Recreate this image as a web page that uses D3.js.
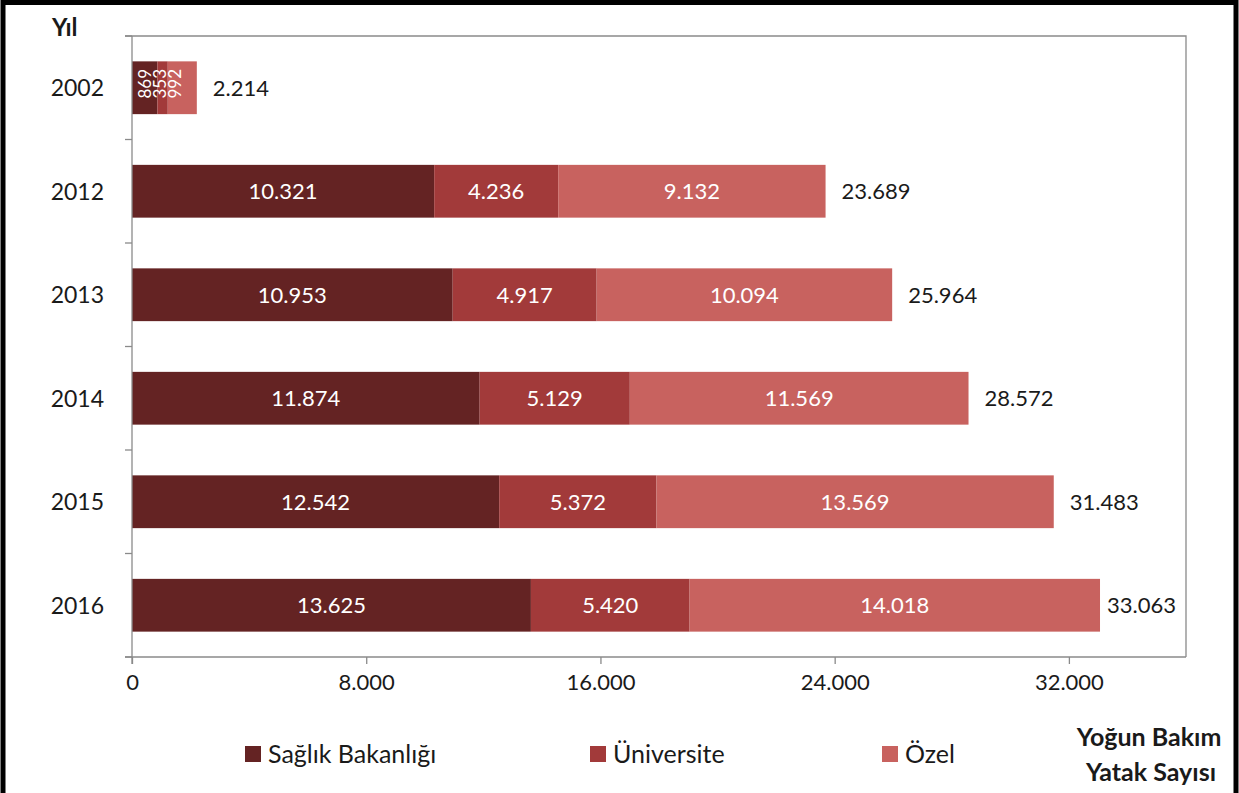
<!DOCTYPE html>
<html lang="tr">
<head>
<meta charset="utf-8">
<script src="https://cdn.jsdelivr.net/npm/d3@7"></script>
<style>
  html, body { margin: 0; padding: 0; background: #fff; }
  svg { display: block; font-family: Lato, "Open Sans", sans-serif; }
</style>
</head>
<body>
<svg id="chart" width="1239" height="793"></svg>
<script>
// Yoğun bakım yatak sayıları, kuruma göre
const years = ["2002", "2012", "2013", "2014", "2015", "2016"];
const saglikBakanligi = [869, 10321, 10953, 11874, 12542, 13625];
const universite = [353, 4236, 4917, 5129, 5372, 5420];
const ozel = [992, 9132, 10094, 11569, 13569, 14018];
const totals = [2214, 23689, 25964, 28572, 31483, 33063];
const seriesNames = ["Sağlık Bakanlığı", "Üniversite", "Özel"];
const xTicks = [0, 8000, 16000, 24000, 32000];

const colors = ["#642323", "#a23a3a", "#c8625f"];
const tr = d3.formatLocale({ decimal: ",", thousands: ".", grouping: [3], currency: ["", " TL"] });
const fmt = tr.format(",d");

const svg = d3.select("#chart");
const W = 1239, H = 793;
const plot = { left: 132, right: 1186, top: 36, bottom: 657 };

svg.append("rect").attr("width", W).attr("height", H).attr("fill", "#fff");

const x = d3.scaleLinear().domain([0, 36000]).range([plot.left, plot.right]);
const y = d3.scaleBand().domain(years).range([plot.top, plot.bottom])
  .paddingInner(0.49).paddingOuter(0.245);

// plot frame (top and right edges)
svg.append("path")
  .attr("d", `M${plot.left - 7},${plot.top}H${plot.right}V${plot.bottom}`)
  .attr("fill", "none").attr("stroke", "#8a8a8a").attr("stroke-width", 1.3);

// stacked data
const rows = years.map((yr, i) => ({
  year: yr, s0: saglikBakanligi[i], s1: universite[i], s2: ozel[i], total: totals[i]
}));
const stack = d3.stack().keys(["s0", "s1", "s2"]);
const layers = stack(rows);

const g = svg.append("g");
layers.forEach((layer, li) => {
  g.selectAll(null).data(layer).enter().append("rect")
    .attr("x", d => x(d[0]))
    .attr("y", d => y(d.data.year))
    .attr("width", d => x(d[1]) - x(d[0]))
    .attr("height", y.bandwidth())
    .attr("fill", colors[li]);
});

// value labels inside segments
layers.forEach((layer, li) => {
  layer.forEach(d => {
    const w = x(d[1]) - x(d[0]);
    const v = d[1] - d[0];
    const cy = y(d.data.year) + y.bandwidth() / 2;
    if (w > 60) {
      svg.append("text")
        .attr("x", (x(d[0]) + x(d[1])) / 2).attr("y", cy)
        .attr("dy", "0.36em").attr("text-anchor", "middle")
        .attr("fill", "#fff").attr("font-size", 22)
        .text(fmt(v));
    } else {
      // narrow segments: vertical labels laid side by side from the bar start
      const cx = x(0) + 13 + li * 15;
      svg.append("text")
        .attr("transform", `translate(${cx},${cy - 4}) rotate(-90)`)
        .attr("dy", "0.36em").attr("text-anchor", "middle")
        .attr("fill", "#fff").attr("font-size", 17)
        .text(fmt(v));
    }
  });
});

// totals to the right of each bar, kept inside the plot frame
rows.forEach(r => {
  const t = svg.append("text")
    .attr("y", y(r.year) + y.bandwidth() / 2)
    .attr("dy", "0.36em").attr("fill", "#1a1a1a").attr("font-size", 22)
    .text(fmt(r.total));
  const tw = t.node().getComputedTextLength();
  t.attr("x", Math.min(x(r.total) + 16, plot.right - 10 - tw));
});

// y axis with ticks between categories
const step = y.step();
const boundaries = years.map(yr => y(yr) - step * y.paddingInner() / 2).concat([plot.bottom]);
svg.append("line").attr("x1", plot.left).attr("x2", plot.left)
  .attr("y1", plot.top).attr("y2", plot.bottom + 7)
  .attr("stroke", "#8a8a8a").attr("stroke-width", 1.3);
svg.selectAll(null).data(boundaries).enter().append("line")
  .attr("x1", plot.left - 7).attr("x2", plot.left)
  .attr("y1", d => d).attr("y2", d => d)
  .attr("stroke", "#8a8a8a").attr("stroke-width", 1.3);
svg.selectAll(null).data(years).enter().append("text")
  .attr("x", 104).attr("y", d => y(d) + y.bandwidth() / 2)
  .attr("dy", "0.36em").attr("text-anchor", "end")
  .attr("fill", "#1a1a1a").attr("font-size", 23)
  .text(d => d);

// x axis
const xAxis = d3.axisBottom(x).tickValues(xTicks).tickSizeOuter(0).tickSize(7).tickPadding(10)
  .tickFormat(d => fmt(d));
const xg = svg.append("g").attr("transform", `translate(0,${plot.bottom})`).call(xAxis);
xg.select(".domain").attr("stroke", "#8a8a8a").attr("stroke-width", 1.3)
  .attr("d", `M${plot.left - 7},0H${plot.right}`);
xg.selectAll(".tick line").attr("stroke", "#8a8a8a").attr("stroke-width", 1.3);
xg.selectAll(".tick text").attr("fill", "#1a1a1a").attr("font-size", 22)
  .attr("font-family", "Lato, 'Open Sans', sans-serif");

// axis titles
svg.append("text").attr("x", 52).attr("y", 36)
  .attr("font-weight", "bold").attr("font-size", 24).attr("fill", "#1a1a1a").text("Yıl");
svg.append("text").attr("x", 1149).attr("y", 746).attr("text-anchor", "middle")
  .attr("font-weight", "bold").attr("font-size", 25).attr("fill", "#1a1a1a").text("Yoğun Bakım");
svg.append("text").attr("x", 1151).attr("y", 781).attr("text-anchor", "middle")
  .attr("font-weight", "bold").attr("font-size", 25).attr("fill", "#1a1a1a").text("Yatak Sayısı");

// legend
const legendX = [245, 590, 882];
seriesNames.forEach((name, i) => {
  svg.append("rect").attr("x", legendX[i]).attr("y", 746)
    .attr("width", 16).attr("height", 16).attr("fill", colors[i]);
  svg.append("text").attr("x", legendX[i] + 23).attr("y", 754)
    .attr("dy", "0.36em").attr("font-size", 25).attr("fill", "#1a1a1a").text(name);
});

// outer frame
svg.append("path")
  .attr("d", `M3,${H}V2.5H${W - 3}V${H}`)
  .attr("fill", "none").attr("stroke", "#000").attr("stroke-width", 5);
</script>
</body>
</html>
